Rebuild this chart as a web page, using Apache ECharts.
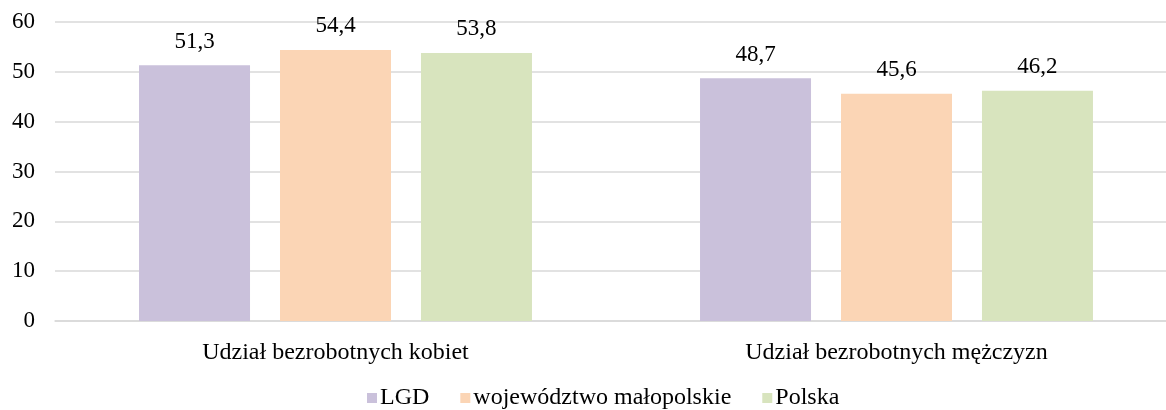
<!DOCTYPE html>
<html>
<head>
<meta charset="utf-8">
<script src="https://cdn.jsdelivr.net/npm/echarts@6/dist/echarts.min.js"></script>
<style>html,body{margin:0;padding:0;background:#fff;overflow:hidden;width:1166px;height:410px}#c{width:1177px;height:410px}</style>
</head>
<body>
<div id="c"></div>
<script>
var categories = ['Udział bezrobotnych kobiet', 'Udział bezrobotnych mężczyzn'];
var seriesNames = ['LGD', 'województwo małopolskie', 'Polska'];
var lgdValues = [51.3, 48.7];
var malopolskieValues = [54.4, 45.6];
var polskaValues = [53.8, 46.2];
var yTicks = [0, 10, 20, 30, 40, 50, 60];
var colors = ['#CAC1DB', '#FBD5B5', '#D8E4BE'];
var font = '"Liberation Serif", "Times New Roman", serif';

var chart = echarts.init(document.getElementById('c'));
var values = [lgdValues, malopolskieValues, polskaValues];
var series = seriesNames.map(function (n, i) {
  return {
    name: n, type: 'bar', data: values[i], barWidth: 111, barGap: '27%',
    itemStyle: { color: colors[i] },
    label: { show: true, position: 'top', distance: 12, color: '#000', fontFamily: font, fontSize: 23,
      formatter: function (p) { return p.value.toFixed(1).replace('.', ','); } }
  };
});
chart.setOption({
  animation: false,
  textStyle: { fontFamily: font },
  grid: { left: 55, right: 0, top: 22, bottom: 89, containLabel: false },
  legend: {
    data: seriesNames, bottom: -5, left: 362, itemWidth: 10, itemHeight: 10, itemGap: 31,
    icon: 'rect', textStyle: { fontFamily: font, fontSize: 24, color: '#000', padding: [0, 0, 0, -2] }
  },
  xAxis: {
    type: 'category', data: categories,
    axisLine: { lineStyle: { color: '#D9D9D9', width: 1.5 } },
    axisTick: { show: false },
    axisLabel: { color: '#000', fontFamily: font, fontSize: 24, margin: 20 }
  },
  yAxis: {
    type: 'value', min: yTicks[0], max: yTicks[yTicks.length - 1], interval: 10,
    axisLine: { show: false }, axisTick: { show: false },
    splitLine: { lineStyle: { color: '#D9D9D9', width: 1.5 } },
    axisLabel: { color: '#000', fontFamily: font, fontSize: 23, margin: 20 }
  },
  series: series
});
</script>
</body>
</html>
